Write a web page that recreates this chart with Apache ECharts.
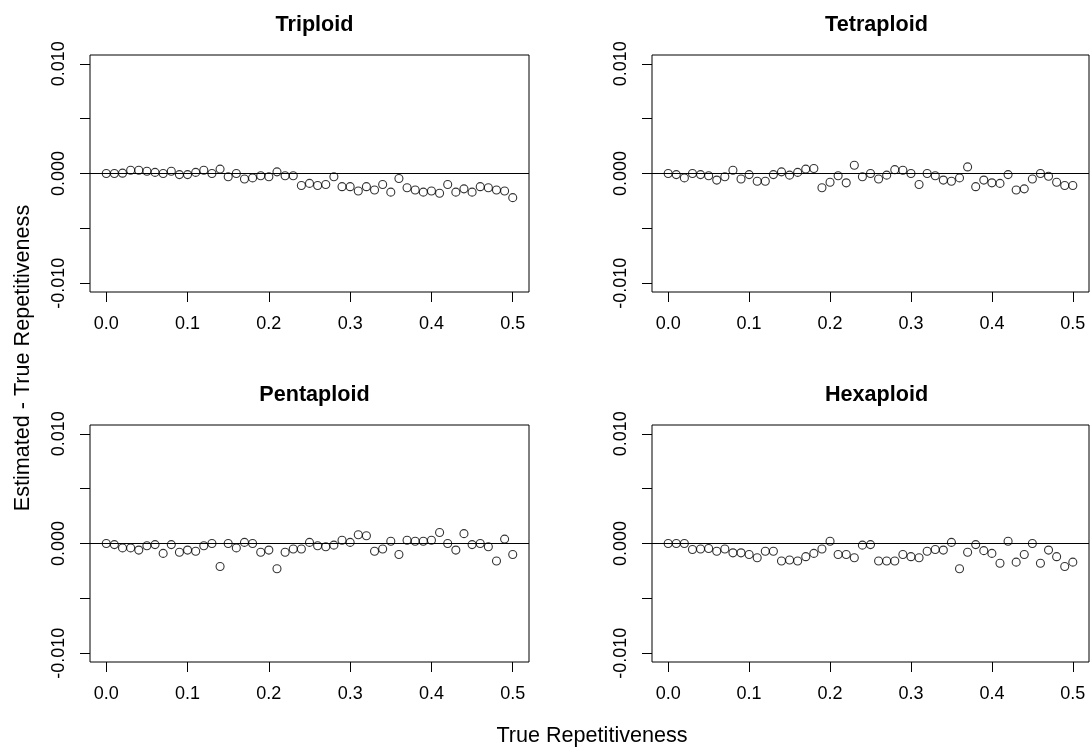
<!DOCTYPE html>
<html>
<head>
<meta charset="utf-8">
<script src="https://cdn.jsdelivr.net/npm/echarts@6/dist/echarts.min.js"></script>
<style>html,body{margin:0;padding:0;background:#fff}#c{width:1090px;height:749px}</style>
</head>
<body>
<div id="c"></div>
<script>
const xValues = [0,0.01,0.02,0.03,0.04,0.05,0.06,0.07,0.08,0.09,0.10,0.11,0.12,0.13,0.14,0.15,0.16,0.17,0.18,0.19,0.20,0.21,0.22,0.23,0.24,0.25,0.26,0.27,0.28,0.29,0.30,0.31,0.32,0.33,0.34,0.35,0.36,0.37,0.38,0.39,0.40,0.41,0.42,0.43,0.44,0.45,0.46,0.47,0.48,0.49,0.50];
const panelTitles = ["Triploid","Tetraploid","Pentaploid","Hexaploid"];
const triploid = [0,0,0.00003,0.0003,0.0003,0.0002,0.0001,0,0.0002,-0.0001,-0.0001,0.0001,0.0003,0,0.0004,-0.0003,0,-0.0005,-0.0004,-0.0002,-0.0003,0.00015,-0.0002,-0.0002,-0.0011,-0.0009,-0.0011,-0.001,-0.0003,-0.0012,-0.0012,-0.0016,-0.0012,-0.0015,-0.001,-0.0017,-0.00045,-0.0013,-0.0015,-0.0017,-0.0016,-0.0018,-0.001,-0.0017,-0.0014,-0.0017,-0.0012,-0.0013,-0.0015,-0.0016,-0.0022];
const tetraploid = [0,-0.0001,-0.0004,0,-0.0001,-0.0002,-0.0006,-0.0003,0.0003,-0.0005,-0.0001,-0.0007,-0.0007,-0.0001,0.00015,-0.00015,0.0001,0.0004,0.00045,-0.0013,-0.0008,-0.0002,-0.00085,0.00075,-0.0003,0,-0.0005,-0.00015,0.00035,0.0003,0,-0.001,0,-0.0002,-0.0006,-0.0007,-0.0004,0.0006,-0.0012,-0.0006,-0.00085,-0.0009,-0.0001,-0.0015,-0.0014,-0.0005,0,-0.00025,-0.0008,-0.0011,-0.0011];
const pentaploid = [0,-0.0001,-0.0004,-0.0004,-0.0006,-0.0002,-0.0001,-0.0009,-0.0001,-0.0008,-0.0006,-0.0007,-0.0002,0,-0.0021,0,-0.0004,0.0001,0,-0.0008,-0.0006,-0.0023,-0.0008,-0.0005,-0.0005,0.0001,-0.0002,-0.0003,-0.00015,0.0003,0.0001,0.0008,0.0007,-0.0007,-0.0005,0.0002,-0.001,0.0003,0.0002,0.0002,0.0003,0.001,0,-0.0006,0.0009,-0.0001,0,-0.0003,-0.0016,0.0004,-0.001];
const hexaploid = [0,0,0,-0.00055,-0.0005,-0.00045,-0.0007,-0.0005,-0.00085,-0.00085,-0.001,-0.0013,-0.0007,-0.0007,-0.0016,-0.0015,-0.0016,-0.0012,-0.0009,-0.0005,0.0002,-0.001,-0.001,-0.0013,-0.00015,-0.0001,-0.0016,-0.0016,-0.0016,-0.001,-0.0012,-0.0013,-0.0007,-0.00055,-0.0006,0.0001,-0.0023,-0.0008,-0.0001,-0.00065,-0.0009,-0.0018,0.0002,-0.0017,-0.001,0,-0.0018,-0.0006,-0.0012,-0.0021,-0.0017];
const xTicks = [0,0.1,0.2,0.3,0.4,0.5];
const yTicks = [-0.01,-0.005,0,0.005,0.01];
const yLabels = [-0.01,0,0.01];
const xLabelText = "True Repetitiveness";
const yLabelText = "Estimated - True Repetitiveness";

const allData = [triploid, tetraploid, pentaploid, hexaploid];
const FONT = "Liberation Sans, Arial, sans-serif";
const grids = [
  {left:90, top:55, width:439, height:237},
  {left:652, top:55, width:437, height:237},
  {left:90, top:425, width:439, height:237},
  {left:652, top:425, width:437, height:237}
];
const option = {
  animation:false,
  backgroundColor:'#fff',
  title: grids.map((g,i)=>({
    text: panelTitles[i], left: g.left + 219.5, top: g.top - 46, textAlign:'center',
    textStyle:{fontFamily:FONT, fontSize:21.6, fontWeight:'bold', color:'#000'}
  })),
  grid: grids.map(g=>Object.assign({show:true, borderColor:'#000', borderWidth:1, backgroundColor:'transparent'}, g)),
  xAxis: grids.map((g,i)=>({
    type:'value', gridIndex:i, min:-0.02, max:0.52,
    axisLine:{show:false, onZero:false}, splitLine:{show:false},
    axisTick:{show:true, length:10, customValues:xTicks, lineStyle:{color:'#000'}},
    axisLabel:{customValues:xTicks, margin:23, fontFamily:FONT, fontSize:18, color:'#000',
      formatter:v=>v.toFixed(1)}
  })),
  yAxis: grids.map((g,i)=>({
    type:'value', gridIndex:i, min:-0.0108, max:0.0108,
    axisLine:{show:false, onZero:false}, splitLine:{show:false},
    axisTick:{show:true, length:10, customValues:yTicks, lineStyle:{color:'#000'}},
    axisLabel:{customValues:yLabels, rotate:90, margin:22, fontFamily:FONT, fontSize:18, color:'#000',
      formatter:v=>v.toFixed(3)}
  })),
  series: allData.map((d,i)=>({
    type:'scatter', xAxisIndex:i, yAxisIndex:i,
    data: d.map((v,j)=>[xValues[j], v]),
    symbol:'circle', symbolSize:8,
    itemStyle:{color:'transparent', borderColor:'#000', borderWidth:1.1},
    markLine:{silent:true, symbol:['none','none'], label:{show:false},
      lineStyle:{color:'#000', width:1, type:'solid'},
      data:[{yAxis:0}]}
  })),
  graphic:[
    {type:'text', x:592, y:736, style:{text:xLabelText, fontFamily:FONT, fontSize:21.6, fill:'#000', align:'center', verticalAlign:'middle'}},
    {type:'text', x:23, y:358, rotation:Math.PI/2, style:{text:yLabelText, fontFamily:FONT, fontSize:21.6, fill:'#000', align:'center', verticalAlign:'middle'}}
  ]
};
const chart = echarts.init(document.getElementById('c'), null, {renderer:'canvas'});
chart.setOption(option);
</script>
</body>
</html>
